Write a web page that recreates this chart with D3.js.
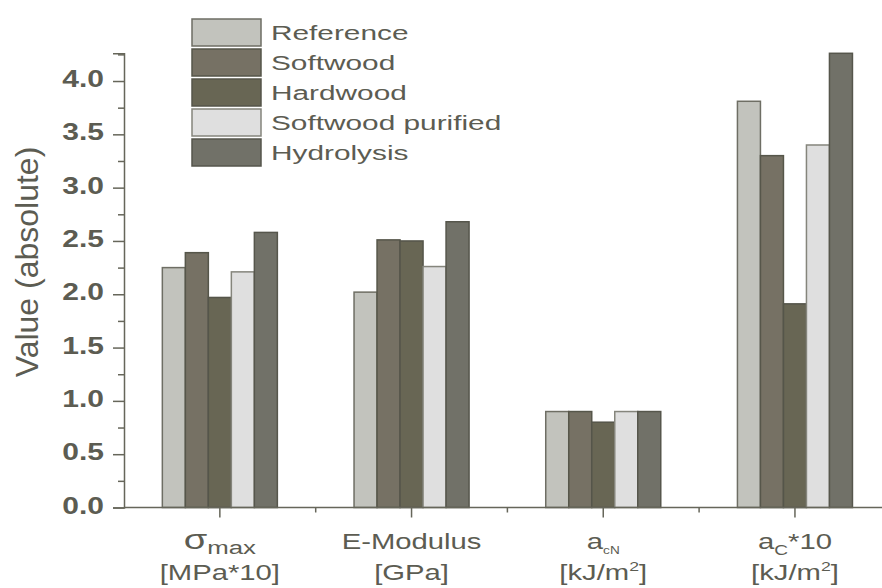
<!DOCTYPE html>
<html>
<head>
<meta charset="utf-8">
<script src="https://cdn.jsdelivr.net/npm/d3@7"></script>
<style>
  body { margin: 0; background: #fff; }
  svg { font-family: "Liberation Sans", Arial, sans-serif; }
</style>
</head>
<body>
<svg id="chart" width="882" height="588"></svg>
<script>
// data
var categories = ['sigma', 'emod', 'acn', 'ac']
var seriesNames = ['Reference', 'Softwood', 'Hardwood', 'Softwood purified', 'Hydrolysis']
var reference = [2.25, 2.02, 0.90, 3.81]
var softwood = [2.39, 2.51, 0.90, 3.30]
var hardwood = [1.97, 2.50, 0.80, 1.91]
var purified = [2.21, 2.26, 0.90, 3.40]
var hydrolysis = [2.58, 2.68, 0.90, 4.26]
var majorTicks = [0, 0.5, 1, 1.5, 2, 2.5, 3, 3.5, 4]
var minorTicks = [0.25, 0.75, 1.25, 1.75, 2.25, 2.75, 3.25, 3.75, 4.25]

var seriesValues = [reference, softwood, hardwood, purified, hydrolysis]
var fills = ['#c2c3bd', '#767164', '#686654', '#dfdfdf', '#717168']
var strokes = ['#6e6e64', '#56564a', '#55554a', '#85857c', '#56564c']
var textColor = '#5c5c52'
var axisColor = '#66665a'

var svg = d3.select('#chart')

// scales
var x0 = d3.scaleBand()
  .domain(categories)
  .range([124, 124 + 4 * 191.7])
  .paddingInner(0)
  .paddingOuter(0)

var groupWidth = x0.bandwidth() * 0.6
var x1 = d3.scaleBand()
  .domain(seriesNames)
  .range([0, groupWidth])

var y = d3.scaleLinear().domain([0, 4.26]).range([507.5, 53.3])

// bars
var groups = svg.selectAll('.group')
  .data(categories)
  .enter()
  .append('g')
  .attr('class', 'group')
  .attr('transform', function(d) {
    return 'translate(' + (x0(d) + (x0.bandwidth() - groupWidth) / 2) + ',0)'
  })

groups.selectAll('rect')
  .data(function(d, i) {
    return seriesNames.map(function(s, j) {
      return { series: s, idx: j, value: seriesValues[j][i] }
    })
  })
  .enter()
  .append('rect')
  .attr('x', function(d) { return x1(d.series) })
  .attr('y', function(d) { return y(d.value) })
  .attr('width', x1.bandwidth())
  .attr('height', function(d) { return y(0) - y(d.value) })
  .attr('fill', function(d) { return fills[d.idx] })
  .attr('stroke', function(d) { return strokes[d.idx] })
  .attr('stroke-width', 1.5)

// y axis
var yAxis = d3.axisLeft(y).tickValues(majorTicks).tickSize(11).tickFormat('')
svg.append('g')
  .attr('class', 'axis y-axis')
  .attr('transform', 'translate(124,0)')
  .call(yAxis)
svg.append('g')
  .attr('class', 'axis')
  .attr('transform', 'translate(124,0)')
  .call(d3.axisLeft(y).tickValues(minorTicks).tickSize(6).tickFormat(''))
  .call(function(g) { g.select('.domain').remove() })

svg.selectAll('.y-label-tick')
  .data(majorTicks)
  .enter()
  .append('text')
  .attr('class', 'y-label-tick')
  .attr('transform', function(d) { return 'translate(104,' + (y(d) + 6) + ') scale(1.25,1)' })
  .attr('text-anchor', 'end')
  .attr('font-size', 24)
  .attr('font-weight', 'bold')
  .attr('fill', textColor)
  .text(d3.format('.1f'))

// x axis
var xAxis = d3.axisBottom(x0).tickSize(10).tickFormat('')
svg.append('g')
  .attr('class', 'axis x-axis')
  .attr('transform', 'translate(0,' + y(0) + ')')
  .call(xAxis)
  .call(function(g) { g.select('.domain').attr('d', 'M124,0H882') })

var boundaries = categories.slice(1).map(function(c) { return x0(c) })
svg.selectAll('.minor-x')
  .data(boundaries)
  .enter()
  .append('line')
  .attr('class', 'minor-x')
  .attr('x1', function(d) { return d })
  .attr('x2', function(d) { return d })
  .attr('y1', y(0))
  .attr('y2', y(0) + 5)

svg.selectAll('.axis path, .axis line, .minor-x')
  .attr('stroke', axisColor)
  .attr('stroke-width', 1.5)

// category labels (two lines, with sub/superscripts)
function catLabel(cat, build1, build2) {
  var cx = x0(cat) + x0.bandwidth() / 2
  var t1 = svg.append('text')
    .attr('transform', 'translate(' + cx + ',549) scale(1.36,1)')
    .attr('text-anchor', 'middle')
    .attr('font-size', 21.5)
    .attr('fill', textColor)
  build1(t1)
  var t2 = svg.append('text')
    .attr('transform', 'translate(' + cx + ',580) scale(1.36,1)')
    .attr('text-anchor', 'middle')
    .attr('font-size', 21.5)
    .attr('fill', textColor)
  build2(t2)
}

function unitKJ(t) {
  t.append('tspan').text('[kJ/m')
  t.append('tspan').attr('font-size', 13).attr('dy', -9).text('2')
  t.append('tspan').attr('dy', 9).text(']')
}

catLabel('sigma', function(t) {
  t.append('tspan').attr('font-size', 28).text('σ')
  t.append('tspan').attr('font-size', 19).attr('dy', 5).text('max')
}, function(t) { t.text('[MPa*10]') })

catLabel('emod', function(t) { t.text('E-Modulus') }, function(t) { t.text('[GPa]') })

catLabel('acn', function(t) {
  t.append('tspan').text('a')
  t.append('tspan').attr('font-size', 10).attr('dy', 5).text('cN')
}, unitKJ)

catLabel('ac', function(t) {
  t.append('tspan').text('a')
  t.append('tspan').attr('font-size', 14).attr('dy', 6).text('C')
  t.append('tspan').attr('dy', -6).text('*10')
}, unitKJ)

// y axis title
svg.append('text')
  .attr('transform', 'translate(38,262) rotate(-90)')
  .attr('text-anchor', 'middle')
  .attr('font-size', 32)
  .attr('fill', textColor)
  .text('Value (absolute)')

// legend
var legend = svg.selectAll('.legend')
  .data(seriesNames)
  .enter()
  .append('g')
  .attr('class', 'legend')
  .attr('transform', function(d, i) { return 'translate(192,' + (19 + i * 30) + ')' })

legend.append('rect')
  .attr('width', 69)
  .attr('height', 27)
  .attr('fill', function(d, i) { return fills[i] })
  .attr('stroke', function(d, i) { return strokes[i] })
  .attr('stroke-width', 1.5)

legend.append('text')
  .attr('transform', 'translate(79,20.5) scale(1.42,1)')
  .attr('font-size', 21)
  .attr('fill', textColor)
  .text(function(d) { return d })
</script>
</body>
</html>
